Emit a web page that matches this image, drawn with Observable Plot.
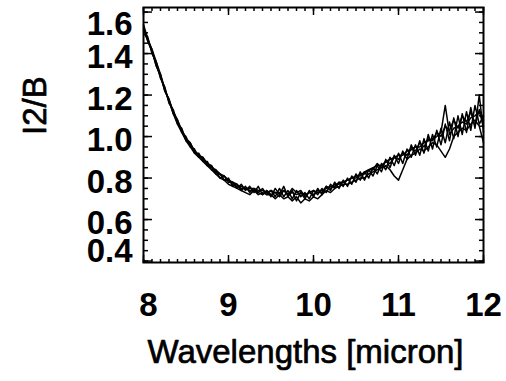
<!DOCTYPE html>
<html>
<head>
<meta charset="utf-8">
<script src="https://cdn.jsdelivr.net/npm/d3@7"></script>
<script src="https://cdn.jsdelivr.net/npm/@observablehq/plot@0.6"></script>
<style>
  html, body { margin: 0; padding: 0; background: #fff; }
  #chart { width: 506px; height: 381px; }
</style>
</head>
<body>
<div id="chart"></div>
<script>
const xTitle = "Wavelengths [micron]";
const yTitle = "I2/B";
const xTicks = [8, 9, 10, 11, 12];
const yTicks = [0.4, 0.6, 0.8, 1.0, 1.2, 1.4, 1.6];
const yTicksMid = [0.6, 0.8, 1.0, 1.2, 1.4];

const wavelengths = [
  8.00, 8.05, 8.10, 8.15, 8.20, 8.25, 8.30, 8.35, 8.40, 8.45,
  8.50, 8.55, 8.60, 8.65, 8.70, 8.75, 8.80, 8.85, 8.90, 8.95,
  9.00, 9.05, 9.10, 9.15, 9.20, 9.25, 9.30, 9.35, 9.40, 9.45,
  9.50, 9.55, 9.60, 9.65, 9.70, 9.75, 9.80, 9.85, 9.90, 9.95,
  10.00, 10.05, 10.10, 10.15, 10.20, 10.25, 10.30, 10.35, 10.40, 10.45,
  10.50, 10.55, 10.60, 10.65, 10.70, 10.75, 10.80, 10.85, 10.90, 10.95,
  11.00, 11.05, 11.10, 11.15, 11.20, 11.25, 11.30, 11.35, 11.40, 11.45,
  11.50, 11.55, 11.60, 11.65, 11.70, 11.75, 11.80, 11.85, 11.90, 11.95,
  12.00
];

const seriesA = [
  1.53, 1.46, 1.42, 1.34, 1.30, 1.22, 1.18, 1.11, 1.08, 1.02,
  1.00, 0.95, 0.94, 0.90, 0.90, 0.86, 0.86, 0.82, 0.82, 0.79,
  0.80, 0.76, 0.77, 0.74, 0.76, 0.73, 0.75, 0.73, 0.75, 0.72,
  0.74, 0.71, 0.75, 0.71, 0.74, 0.70, 0.74, 0.71, 0.73, 0.70,
  0.74, 0.72, 0.75, 0.73, 0.77, 0.75, 0.78, 0.76, 0.80, 0.77,
  0.82, 0.79, 0.83, 0.80, 0.85, 0.82, 0.87, 0.84, 0.90, 0.86,
  0.92, 0.87, 0.94, 0.90, 0.96, 0.91, 0.99, 0.93, 1.01, 0.95,
  1.04, 0.97, 1.07, 0.99, 1.10, 1.01, 1.12, 1.03, 1.15, 1.06,
  1.10
];
const seriesB = [
  1.51, 1.48, 1.40, 1.36, 1.28, 1.24, 1.16, 1.13, 1.06, 1.04,
  0.98, 0.97, 0.92, 0.92, 0.88, 0.88, 0.84, 0.84, 0.80, 0.81,
  0.78, 0.78, 0.75, 0.77, 0.74, 0.76, 0.73, 0.76, 0.72, 0.74,
  0.71, 0.75, 0.72, 0.76, 0.71, 0.74, 0.69, 0.73, 0.70, 0.74,
  0.71, 0.75, 0.72, 0.76, 0.74, 0.78, 0.75, 0.79, 0.76, 0.81,
  0.78, 0.83, 0.79, 0.84, 0.81, 0.86, 0.83, 0.89, 0.85, 0.91,
  0.87, 0.93, 0.89, 0.96, 0.91, 0.98, 0.92, 1.01, 0.94, 1.03,
  0.96, 1.06, 0.98, 1.09, 1.00, 1.11, 1.02, 1.14, 1.04, 1.20,
  1.02
];
const seriesC = [
  1.54, 1.47, 1.41, 1.35, 1.29, 1.23, 1.17, 1.12, 1.07, 1.03,
  0.99, 0.96, 0.93, 0.91, 0.89, 0.87, 0.85, 0.84, 0.82, 0.81,
  0.79, 0.78, 0.77, 0.75, 0.75, 0.74, 0.74, 0.72, 0.73, 0.72,
  0.72, 0.70, 0.72, 0.70, 0.71, 0.69, 0.71, 0.68, 0.70, 0.69,
  0.71, 0.70, 0.72, 0.74, 0.73, 0.75, 0.76, 0.77, 0.77, 0.78,
  0.79, 0.80, 0.80, 0.82, 0.83, 0.84, 0.85, 0.86, 0.84, 0.81,
  0.79, 0.84, 0.89, 0.91, 0.92, 0.94, 0.93, 0.95, 0.97, 0.96,
  0.93, 0.90, 0.94, 1.00, 1.02, 1.04, 1.03, 1.06, 1.08, 1.05,
  0.97
];
const seriesD = [
  1.52, 1.46, 1.41, 1.34, 1.29, 1.22, 1.18, 1.12, 1.08, 1.03,
  0.99, 0.97, 0.93, 0.91, 0.90, 0.87, 0.86, 0.83, 0.82, 0.79,
  0.79, 0.77, 0.76, 0.76, 0.75, 0.75, 0.75, 0.74, 0.74, 0.73,
  0.74, 0.73, 0.73, 0.74, 0.72, 0.73, 0.72, 0.73, 0.72, 0.73,
  0.74, 0.73, 0.74, 0.75, 0.76, 0.76, 0.78, 0.78, 0.79, 0.80,
  0.81, 0.81, 0.83, 0.84, 0.85, 0.86, 0.86, 0.88, 0.89, 0.90,
  0.91, 0.91, 0.93, 0.94, 0.95, 0.95, 0.97, 0.98, 0.99, 1.00,
  1.02, 1.15, 1.01, 1.04, 1.05, 1.07, 1.06, 1.09, 1.10, 1.12,
  1.05
];
const seriesE = [
  1.50, 1.47, 1.42, 1.36, 1.30, 1.23, 1.17, 1.11, 1.06, 1.02,
  0.98, 0.95, 0.92, 0.90, 0.88, 0.86, 0.84, 0.82, 0.80, 0.79,
  0.77, 0.76, 0.75, 0.74, 0.73, 0.72, 0.74, 0.73, 0.72, 0.74,
  0.72, 0.73, 0.71, 0.74, 0.72, 0.75, 0.73, 0.74, 0.71, 0.73,
  0.72, 0.74, 0.73, 0.76, 0.75, 0.77, 0.77, 0.78, 0.79, 0.80,
  0.80, 0.82, 0.82, 0.84, 0.84, 0.87, 0.85, 0.88, 0.87, 0.90,
  0.89, 0.92, 0.91, 0.94, 0.93, 0.97, 0.95, 0.99, 0.98, 1.02,
  1.00, 1.05, 1.03, 1.08, 1.04, 1.10, 1.07, 1.12, 1.05, 1.13,
  1.08
];

const seriesList = [seriesA, seriesB, seriesC, seriesD, seriesE];
const table = seriesList.flatMap((vals, s) =>
  vals.map((v, i) => ({ s, w: wavelengths[i], v }))
);

// Minor tick positions (axis decoration only)
const xMinor = d3.range(80, 121).map(d => d / 10);
const yMinor = d3.range(8, 33).map(d => d / 20);

const font = "Liberation Sans, Arial, Helvetica, sans-serif";
const fs = 33;
const tickText = { tickSize: 0, fontSize: fs, fontWeight: "bold", label: null };

const chart = Plot.plot({
  width: 506,
  height: 381,
  marginLeft: 143,
  marginRight: 23,
  marginTop: 7,
  marginBottom: 119,
  style: { background: "#fff", color: "#000", fontFamily: font, overflow: "visible" },
  x: { domain: [8, 12], label: null },
  y: { domain: [0.393, 1.622], label: null },
  marks: [
    Plot.axisY(yMinor, { anchor: "right", frameAnchor: "left", tickSize: 4, fill: "none", label: null, strokeWidth: 1.5 }),
    Plot.axisY(yTicks, { anchor: "right", frameAnchor: "left", tickSize: 8, fill: "none", label: null, strokeWidth: 1.5 }),
    Plot.axisY(yMinor, { anchor: "left", frameAnchor: "right", tickSize: 4, fill: "none", label: null, strokeWidth: 1.5 }),
    Plot.axisY(yTicks, { anchor: "left", frameAnchor: "right", tickSize: 8, fill: "none", label: null, strokeWidth: 1.5 }),
    Plot.axisX(xMinor, { anchor: "top", frameAnchor: "bottom", tickSize: 4, fill: "none", label: null, strokeWidth: 1.5 }),
    Plot.axisX(xTicks, { anchor: "top", frameAnchor: "bottom", tickSize: 8, fill: "none", label: null, strokeWidth: 1.5 }),
    Plot.axisX(xMinor, { anchor: "bottom", frameAnchor: "top", tickSize: 4, fill: "none", label: null, strokeWidth: 1.5 }),
    Plot.axisX(xTicks, { anchor: "bottom", frameAnchor: "top", tickSize: 8, fill: "none", label: null, strokeWidth: 1.5 }),
    Plot.axisY(yTicksMid, { anchor: "left", tickPadding: 11, dy: 4, tickFormat: d3.format(".1f"), ...tickText }),
    Plot.axisY([1.6], { anchor: "left", tickPadding: 11, dy: 12, tickFormat: d3.format(".1f"), ...tickText }),
    Plot.axisY([0.4], { anchor: "left", tickPadding: 11, dy: -10, tickFormat: d3.format(".1f"), ...tickText }),
    Plot.axisX([8], { anchor: "bottom", tickPadding: 30, dx: 5, ...tickText }),
    Plot.axisX(xTicks.slice(1), { anchor: "bottom", tickPadding: 30, ...tickText }),
    Plot.text([xTitle], { frameAnchor: "bottom", dy: 100, dx: -8, fontSize: fs, fill: "#000", stroke: "#000", strokeWidth: 0.7 }),
    Plot.text([yTitle], { frameAnchor: "left", dx: -108, rotate: -90, fontSize: fs, fill: "#000", stroke: "#000", strokeWidth: 0.7 }),
    Plot.line(table, { x: "w", y: "v", z: "s", stroke: "#000", strokeWidth: 1.5 }),
    Plot.frame({ stroke: "#000", strokeWidth: 2 })
  ]
});
document.getElementById("chart").appendChild(chart);
</script>
</body>
</html>
